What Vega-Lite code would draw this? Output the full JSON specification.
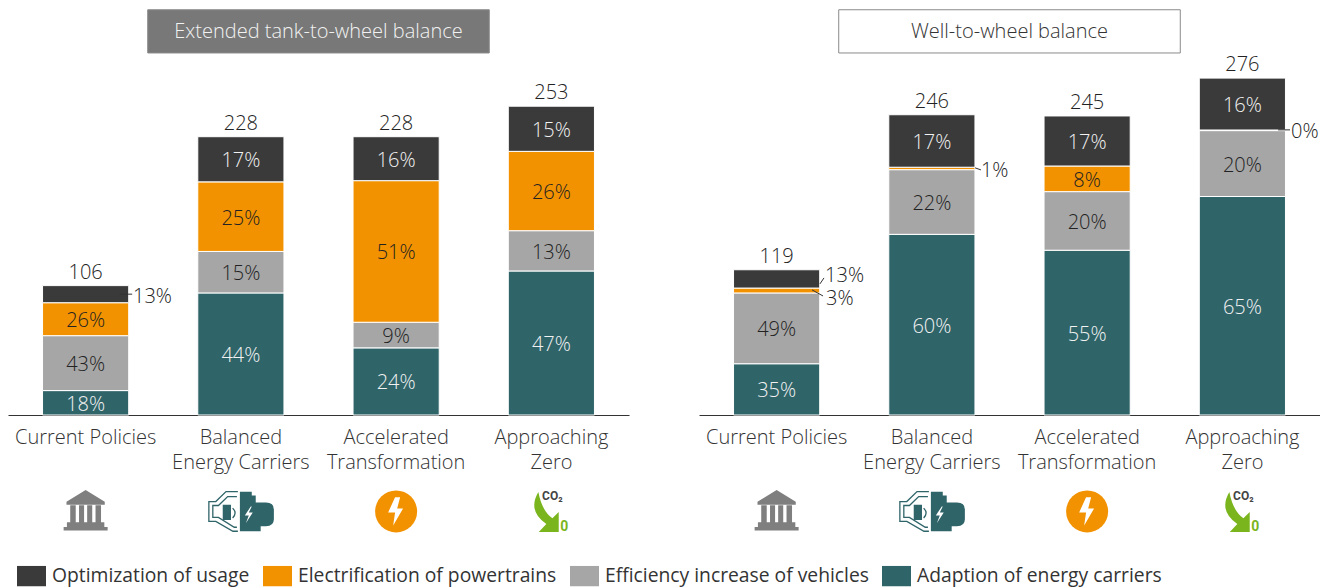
{
"$schema":"https://vega.github.io/schema/vega-lite/v6.json",
"padding":{"left":8,"top":0,"right":0,"bottom":0},
"background":"white",
"config":{"font":"Open Sans","view":{"stroke":null},"legend":{"orient":"none","legendX":9,"legendY":561.5,"direction":"horizontal","columns":4,"title":null,"symbolType":"M-1,-0.7H1V0.7H-1Z","symbolSize":841,"symbolStrokeWidth":0,"symbolOpacity":1,"labelFontSize":19.3,"labelColor":"#333","labelOffset":6,"columnPadding":13,"labelLimit":400,"padding":0}},
"data":{"values":[
{"kind":"header","panel":"Extended tank-to-wheel balance","x":0.9,"x2":3.1,"y":296.6,"y2":332,"cx":2,"cy":314},
{"kind":"header","panel":"Well-to-wheel balance","x":0.9,"x2":3.1,"y":296.6,"y2":332,"cx":2,"cy":314},
{"kind":"bar","panel":"Extended tank-to-wheel balance","scenario":"Current Policies","category":"Adaption of energy carriers","value":20,"pct":18},
{"kind":"bar","panel":"Extended tank-to-wheel balance","scenario":"Current Policies","category":"Efficiency increase of vehicles","value":45,"pct":43},
{"kind":"bar","panel":"Extended tank-to-wheel balance","scenario":"Current Policies","category":"Electrification of powertrains","value":27,"pct":26},
{"kind":"bar","panel":"Extended tank-to-wheel balance","scenario":"Current Policies","category":"Optimization of usage","value":14,"pct":13,"outside":true},
{"kind":"bar","panel":"Extended tank-to-wheel balance","scenario":"Balanced Energy Carriers","category":"Adaption of energy carriers","value":100,"pct":44},
{"kind":"bar","panel":"Extended tank-to-wheel balance","scenario":"Balanced Energy Carriers","category":"Efficiency increase of vehicles","value":34,"pct":15},
{"kind":"bar","panel":"Extended tank-to-wheel balance","scenario":"Balanced Energy Carriers","category":"Electrification of powertrains","value":57,"pct":25},
{"kind":"bar","panel":"Extended tank-to-wheel balance","scenario":"Balanced Energy Carriers","category":"Optimization of usage","value":37,"pct":17},
{"kind":"bar","panel":"Extended tank-to-wheel balance","scenario":"Accelerated Transformation","category":"Adaption of energy carriers","value":55,"pct":24},
{"kind":"bar","panel":"Extended tank-to-wheel balance","scenario":"Accelerated Transformation","category":"Efficiency increase of vehicles","value":21,"pct":9},
{"kind":"bar","panel":"Extended tank-to-wheel balance","scenario":"Accelerated Transformation","category":"Electrification of powertrains","value":116,"pct":51},
{"kind":"bar","panel":"Extended tank-to-wheel balance","scenario":"Accelerated Transformation","category":"Optimization of usage","value":36,"pct":16},
{"kind":"bar","panel":"Extended tank-to-wheel balance","scenario":"Approaching Zero","category":"Adaption of energy carriers","value":118,"pct":47},
{"kind":"bar","panel":"Extended tank-to-wheel balance","scenario":"Approaching Zero","category":"Efficiency increase of vehicles","value":33,"pct":13},
{"kind":"bar","panel":"Extended tank-to-wheel balance","scenario":"Approaching Zero","category":"Electrification of powertrains","value":65,"pct":26},
{"kind":"bar","panel":"Extended tank-to-wheel balance","scenario":"Approaching Zero","category":"Optimization of usage","value":37,"pct":15},
{"kind":"bar","panel":"Well-to-wheel balance","scenario":"Current Policies","category":"Adaption of energy carriers","value":42,"pct":35},
{"kind":"bar","panel":"Well-to-wheel balance","scenario":"Current Policies","category":"Efficiency increase of vehicles","value":58,"pct":49},
{"kind":"bar","panel":"Well-to-wheel balance","scenario":"Current Policies","category":"Electrification of powertrains","value":4,"pct":3,"outside":true},
{"kind":"bar","panel":"Well-to-wheel balance","scenario":"Current Policies","category":"Optimization of usage","value":15,"pct":13,"outside":true},
{"kind":"bar","panel":"Well-to-wheel balance","scenario":"Balanced Energy Carriers","category":"Adaption of energy carriers","value":148,"pct":60},
{"kind":"bar","panel":"Well-to-wheel balance","scenario":"Balanced Energy Carriers","category":"Efficiency increase of vehicles","value":53,"pct":22},
{"kind":"bar","panel":"Well-to-wheel balance","scenario":"Balanced Energy Carriers","category":"Electrification of powertrains","value":2,"pct":1,"outside":true},
{"kind":"bar","panel":"Well-to-wheel balance","scenario":"Balanced Energy Carriers","category":"Optimization of usage","value":43,"pct":17},
{"kind":"bar","panel":"Well-to-wheel balance","scenario":"Accelerated Transformation","category":"Adaption of energy carriers","value":135,"pct":55},
{"kind":"bar","panel":"Well-to-wheel balance","scenario":"Accelerated Transformation","category":"Efficiency increase of vehicles","value":48,"pct":20},
{"kind":"bar","panel":"Well-to-wheel balance","scenario":"Accelerated Transformation","category":"Electrification of powertrains","value":21,"pct":8},
{"kind":"bar","panel":"Well-to-wheel balance","scenario":"Accelerated Transformation","category":"Optimization of usage","value":41,"pct":17},
{"kind":"bar","panel":"Well-to-wheel balance","scenario":"Approaching Zero","category":"Adaption of energy carriers","value":179,"pct":65},
{"kind":"bar","panel":"Well-to-wheel balance","scenario":"Approaching Zero","category":"Efficiency increase of vehicles","value":54,"pct":20},
{"kind":"bar","panel":"Well-to-wheel balance","scenario":"Approaching Zero","category":"Electrification of powertrains","value":0.5,"pct":0,"outside":true},
{"kind":"bar","panel":"Well-to-wheel balance","scenario":"Approaching Zero","category":"Optimization of usage","value":42.5,"pct":16},
{"kind":"total","panel":"Extended tank-to-wheel balance","scenario":"Current Policies","value":106},
{"kind":"total","panel":"Extended tank-to-wheel balance","scenario":"Balanced Energy Carriers","value":228},
{"kind":"total","panel":"Extended tank-to-wheel balance","scenario":"Accelerated Transformation","value":228},
{"kind":"total","panel":"Extended tank-to-wheel balance","scenario":"Approaching Zero","value":253},
{"kind":"total","panel":"Well-to-wheel balance","scenario":"Current Policies","value":119},
{"kind":"total","panel":"Well-to-wheel balance","scenario":"Balanced Energy Carriers","value":246},
{"kind":"total","panel":"Well-to-wheel balance","scenario":"Accelerated Transformation","value":245},
{"kind":"total","panel":"Well-to-wheel balance","scenario":"Approaching Zero","value":276},
{"kind":"leader","panel":"Extended tank-to-wheel balance","x":0.72,"x2":0.8,"y":99,"y2":99},
{"kind":"leader","panel":"Well-to-wheel balance","x":0.779,"x2":0.805,"y":107.4,"y2":112.3},
{"kind":"leader","panel":"Well-to-wheel balance","x":0.728,"x2":0.799,"y":102.5,"y2":97.5},
{"kind":"leader","panel":"Well-to-wheel balance","x":1.778,"x2":1.816,"y":202.5,"y2":200.8},
{"kind":"leader","panel":"Well-to-wheel balance","x":3.73,"x2":3.807,"y":233.6,"y2":233.6},
{"kind":"note","panel":"Extended tank-to-wheel balance","x":0.805,"y":97.5,"text":"13%"},
{"kind":"note","panel":"Well-to-wheel balance","x":0.812,"y":114.8,"text":"13%"},
{"kind":"note","panel":"Well-to-wheel balance","x":0.818,"y":95.9,"text":"3%"},
{"kind":"note","panel":"Well-to-wheel balance","x":1.816,"y":200.8,"text":"1%"},
{"kind":"note","panel":"Well-to-wheel balance","x":3.813,"y":232.8,"text":"0%"},
{"kind":"icon","panel":"Extended tank-to-wheel balance","scenario":"Current Policies"},
{"kind":"icon","panel":"Extended tank-to-wheel balance","scenario":"Balanced Energy Carriers"},
{"kind":"icon","panel":"Extended tank-to-wheel balance","scenario":"Accelerated Transformation"},
{"kind":"icon","panel":"Extended tank-to-wheel balance","scenario":"Approaching Zero"},
{"kind":"icon","panel":"Well-to-wheel balance","scenario":"Current Policies"},
{"kind":"icon","panel":"Well-to-wheel balance","scenario":"Balanced Energy Carriers"},
{"kind":"icon","panel":"Well-to-wheel balance","scenario":"Accelerated Transformation"},
{"kind":"icon","panel":"Well-to-wheel balance","scenario":"Approaching Zero"}
]},
"spacing":70,
"hconcat":[
{
"transform":[{"filter":"datum.panel=='Extended tank-to-wheel balance'"}],
"width":621,"height":415,
"resolve":{"scale":{"x":"independent"},"axis":{"x":"independent"}},
"encoding":{"x":{"field":"scenario","type":"nominal","title":null,"axis":null,"scale":{"domain":["Current Policies","Balanced Energy Carriers","Accelerated Transformation","Approaching Zero"],"paddingInner":0.445,"paddingOuter":0.2225}}},
"layer":[
{"transform":[{"filter":"datum.kind=='header'"}],"mark":{"type":"rect","strokeWidth":1,"stroke":"#8a8a8a"},
"encoding":{"x":{"field":"x","type":"quantitative","scale":{"domain":[0,4]},"axis":null},"x2":{"field":"x2"},"y":{"field":"y","type":"quantitative","scale":{"domain":[0,340]},"axis":null},"y2":{"field":"y2"},
"fill":{"condition":{"test":"datum.panel=='Well-to-wheel balance'","value":"#ffffff"},"value":"#787878"}}},
{"transform":[{"filter":"datum.kind=='header'"}],"mark":{"type":"text","fontSize":20,"fontWeight":300},
"encoding":{"x":{"field":"cx","type":"quantitative","scale":{"domain":[0,4]},"axis":null},"y":{"field":"cy","type":"quantitative","scale":{"domain":[0,340]},"axis":null},"text":{"field":"panel"},
"color":{"condition":{"test":"datum.panel=='Well-to-wheel balance'","value":"#333333"},"value":"#f2f2f2"}}},
{"transform":[{"filter":"datum.kind=='bar'"},{"stack":"value","groupby":["scenario"],"as":["y0","y1"]}],"mark":{"type":"bar","stroke":"#ffffff","strokeWidth":1},
"encoding":{"x":{"field":"scenario","type":"nominal","title":null,"scale":{"domain":["Current Policies","Balanced Energy Carriers","Accelerated Transformation","Approaching Zero"],"paddingInner":0.445,"paddingOuter":0.2225},
"axis":{"title":null,"labelAngle":0,"ticks":false,"labelFontSize":20,"labelFontWeight":300,"labelColor":"#333","labelPadding":12,"labelLimit":300,"labelLineHeight":25,"domainColor":"#333","domainWidth":1,"labelBaseline":"top","labelExpr":"datum.label=='Balanced Energy Carriers'?['Balanced','Energy Carriers']:datum.label=='Accelerated Transformation'?['Accelerated','Transformation']:datum.label=='Approaching Zero'?['Approaching','Zero']:datum.label"}},
"y":{"field":"y0","type":"quantitative","scale":{"domain":[0,340]},"axis":null},"y2":{"field":"y1"},
"color":{"field":"category","type":"nominal","scale":{"domain":["Optimization of usage","Electrification of powertrains","Efficiency increase of vehicles","Adaption of energy carriers"],"range":["#3a3a3a","#f39200","#a6a6a6","#2f6469"]},"legend":{}}}},
{"transform":[{"filter":"datum.kind=='bar'"},{"stack":"value","groupby":["scenario"],"as":["y0","y1"]},{"filter":"!datum.outside"},{"calculate":"(datum.y0+datum.y1)/2","as":"mid"},{"calculate":"datum.pct+'%'","as":"pctText"}],"mark":{"type":"text","fontSize":20,"fontWeight":300,"dy":2},
"encoding":{"y":{"field":"mid","type":"quantitative","scale":{"domain":[0,340]},"axis":null},"text":{"field":"pctText"},
"color":{"condition":{"test":"datum.category=='Optimization of usage'||datum.category=='Adaption of energy carriers'","value":"#f2f2f2"},"value":"#222222"}}},
{"transform":[{"filter":"datum.kind=='total'"}],"mark":{"type":"text","fontSize":20,"fontWeight":300,"baseline":"bottom","dy":-3,"color":"#222"},
"encoding":{"y":{"field":"value","type":"quantitative","scale":{"domain":[0,340]},"axis":null},"text":{"field":"value"}}},
{"transform":[{"filter":"datum.kind=='leader'"}],"mark":{"type":"rule","color":"#333","strokeWidth":1},
"encoding":{"x":{"field":"x","type":"quantitative","scale":{"domain":[0,4]},"axis":null},"x2":{"field":"x2"},"y":{"field":"y","type":"quantitative","scale":{"domain":[0,340]},"axis":null},"y2":{"field":"y2"}}},
{"transform":[{"filter":"datum.kind=='note'"}],"mark":{"type":"text","fontSize":20,"fontWeight":300,"align":"left","dy":1,"color":"#222"},
"encoding":{"x":{"field":"x","type":"quantitative","scale":{"domain":[0,4]},"axis":null},"y":{"field":"y","type":"quantitative","scale":{"domain":[0,340]},"axis":null},"text":{"field":"text"}}},
{"transform":[{"filter":"datum.kind=='icon'&&datum.scenario=='Current Policies'"}],"mark":{"type":"point","filled":true,"opacity":1,"size":1936,"color":"#7f7f7f","shape":"M0,-.92L.87,-.38V-.25H-.87V-.38Z M-.7,-.22H-.45V.58H-.7Z M-.3,-.22H-.07V.58H-.3Z M.07,-.22H.3V.58H.07Z M.45,-.22H.7V.58H.45Z M-.85,.55H.85V.76H1V.92H-1V.76H-.85Z"},
"encoding":{"y":{"datum":-78,"type":"quantitative","scale":{"domain":[0,340]},"axis":null}}},
{"transform":[{"filter":"datum.kind=='icon'&&datum.scenario=='Balanced Energy Carriers'"}],"mark":{"type":"point","filled":true,"opacity":1,"size":4356,"color":"#2f6469","shape":"M-.03,-.6H.33V-.48H.45V-.27H.76Q1,-.27 1,-.06V.24Q1,.45 .76,.45H.6V.6H-.03Z M-.55,-.2H-.3V.26H-.55Z"},
"encoding":{"y":{"datum":-79,"type":"quantitative","scale":{"domain":[0,340]},"axis":null}}},
{"transform":[{"filter":"datum.kind=='icon'&&datum.scenario=='Balanced Energy Carriers'"}],"mark":{"type":"point","filled":false,"opacity":1,"strokeWidth":1.3,"size":4356,"color":"#2f6469","shape":"M-.09,-.6H-.45L-.76,-.3H-.97V.3H-.76L-.24,.6H-.09M-.12,-.45H-.4L-.68,-.18H-.85V.18H-.68L-.2,.48H-.12M-.25,-.1Q-.1,.05 -.25,.2"},
"encoding":{"y":{"datum":-79,"type":"quantitative","scale":{"domain":[0,340]},"axis":null}}},
{"transform":[{"filter":"datum.kind=='icon'&&datum.scenario=='Balanced Energy Carriers'"}],"mark":{"type":"point","filled":true,"opacity":1,"size":4356,"color":"#ffffff","shape":"M.3,-.15L.12,.12H.24L.15,.36L.36,.03H.24L.33,-.15Z"},
"encoding":{"y":{"datum":-79,"type":"quantitative","scale":{"domain":[0,340]},"axis":null}}},
{"transform":[{"filter":"datum.kind=='icon'&&datum.scenario=='Accelerated Transformation'"}],"mark":{"type":"point","shape":"circle","filled":true,"opacity":1,"size":1764,"color":"#f39200"},
"encoding":{"y":{"datum":-79,"type":"quantitative","scale":{"domain":[0,340]},"axis":null}}},
{"transform":[{"filter":"datum.kind=='icon'&&datum.scenario=='Accelerated Transformation'"}],"mark":{"type":"point","filled":true,"opacity":1,"size":1764,"color":"#ffffff","shape":"M-.05,-.67L-.38,.05H-.05L-.14,.67L.33,-.14H.05L.19,-.67Z"},
"encoding":{"y":{"datum":-79,"type":"quantitative","scale":{"domain":[0,340]},"axis":null}}},
{"transform":[{"filter":"datum.kind=='icon'&&datum.scenario=='Approaching Zero'"}],"mark":{"type":"point","filled":true,"opacity":1,"size":1764,"color":"#7ab51d","shape":"M-.62,-.95Q-1.15,-.05 -.24,.57L-.6,.95H.35V0L.05,.3Q-.45,-.05 -.62,-.95Z"},
"encoding":{"y":{"datum":-79.5,"type":"quantitative","scale":{"domain":[0,340]},"axis":null}}},
{"transform":[{"filter":"datum.kind=='icon'&&datum.scenario=='Approaching Zero'"}],"mark":{"type":"text","fontSize":12,"fontWeight":"bold","font":"Roboto","color":"#444","text":"CO₂","dx":1},
"encoding":{"y":{"datum":-66,"type":"quantitative","scale":{"domain":[0,340]},"axis":null}}},
{"transform":[{"filter":"datum.kind=='icon'&&datum.scenario=='Approaching Zero'"}],"mark":{"type":"text","fontSize":14,"fontWeight":"bold","font":"Roboto","color":"#7ab51d","text":"0","dx":13},
"encoding":{"y":{"datum":-91.5,"type":"quantitative","scale":{"domain":[0,340]},"axis":null}}}
]},
{
"transform":[{"filter":"datum.panel=='Well-to-wheel balance'"}],
"width":621,"height":415,
"resolve":{"scale":{"x":"independent"},"axis":{"x":"independent"}},
"encoding":{"x":{"field":"scenario","type":"nominal","title":null,"axis":null,"scale":{"domain":["Current Policies","Balanced Energy Carriers","Accelerated Transformation","Approaching Zero"],"paddingInner":0.445,"paddingOuter":0.2225}}},
"layer":[
{"transform":[{"filter":"datum.kind=='header'"}],"mark":{"type":"rect","strokeWidth":1,"stroke":"#8a8a8a"},
"encoding":{"x":{"field":"x","type":"quantitative","scale":{"domain":[0,4]},"axis":null},"x2":{"field":"x2"},"y":{"field":"y","type":"quantitative","scale":{"domain":[0,340]},"axis":null},"y2":{"field":"y2"},
"fill":{"condition":{"test":"datum.panel=='Well-to-wheel balance'","value":"#ffffff"},"value":"#787878"}}},
{"transform":[{"filter":"datum.kind=='header'"}],"mark":{"type":"text","fontSize":20,"fontWeight":300},
"encoding":{"x":{"field":"cx","type":"quantitative","scale":{"domain":[0,4]},"axis":null},"y":{"field":"cy","type":"quantitative","scale":{"domain":[0,340]},"axis":null},"text":{"field":"panel"},
"color":{"condition":{"test":"datum.panel=='Well-to-wheel balance'","value":"#333333"},"value":"#f2f2f2"}}},
{"transform":[{"filter":"datum.kind=='bar'"},{"stack":"value","groupby":["scenario"],"as":["y0","y1"]}],"mark":{"type":"bar","stroke":"#ffffff","strokeWidth":1},
"encoding":{"x":{"field":"scenario","type":"nominal","title":null,"scale":{"domain":["Current Policies","Balanced Energy Carriers","Accelerated Transformation","Approaching Zero"],"paddingInner":0.445,"paddingOuter":0.2225},
"axis":{"title":null,"labelAngle":0,"ticks":false,"labelFontSize":20,"labelFontWeight":300,"labelColor":"#333","labelPadding":12,"labelLimit":300,"labelLineHeight":25,"domainColor":"#333","domainWidth":1,"labelBaseline":"top","labelExpr":"datum.label=='Balanced Energy Carriers'?['Balanced','Energy Carriers']:datum.label=='Accelerated Transformation'?['Accelerated','Transformation']:datum.label=='Approaching Zero'?['Approaching','Zero']:datum.label"}},
"y":{"field":"y0","type":"quantitative","scale":{"domain":[0,340]},"axis":null},"y2":{"field":"y1"},
"color":{"field":"category","type":"nominal","scale":{"domain":["Optimization of usage","Electrification of powertrains","Efficiency increase of vehicles","Adaption of energy carriers"],"range":["#3a3a3a","#f39200","#a6a6a6","#2f6469"]},"legend":{}}}},
{"transform":[{"filter":"datum.kind=='bar'"},{"stack":"value","groupby":["scenario"],"as":["y0","y1"]},{"filter":"!datum.outside"},{"calculate":"(datum.y0+datum.y1)/2","as":"mid"},{"calculate":"datum.pct+'%'","as":"pctText"}],"mark":{"type":"text","fontSize":20,"fontWeight":300,"dy":2},
"encoding":{"y":{"field":"mid","type":"quantitative","scale":{"domain":[0,340]},"axis":null},"text":{"field":"pctText"},
"color":{"condition":{"test":"datum.category=='Optimization of usage'||datum.category=='Adaption of energy carriers'","value":"#f2f2f2"},"value":"#222222"}}},
{"transform":[{"filter":"datum.kind=='total'"}],"mark":{"type":"text","fontSize":20,"fontWeight":300,"baseline":"bottom","dy":-3,"color":"#222"},
"encoding":{"y":{"field":"value","type":"quantitative","scale":{"domain":[0,340]},"axis":null},"text":{"field":"value"}}},
{"transform":[{"filter":"datum.kind=='leader'"}],"mark":{"type":"rule","color":"#333","strokeWidth":1},
"encoding":{"x":{"field":"x","type":"quantitative","scale":{"domain":[0,4]},"axis":null},"x2":{"field":"x2"},"y":{"field":"y","type":"quantitative","scale":{"domain":[0,340]},"axis":null},"y2":{"field":"y2"}}},
{"transform":[{"filter":"datum.kind=='note'"}],"mark":{"type":"text","fontSize":20,"fontWeight":300,"align":"left","dy":1,"color":"#222"},
"encoding":{"x":{"field":"x","type":"quantitative","scale":{"domain":[0,4]},"axis":null},"y":{"field":"y","type":"quantitative","scale":{"domain":[0,340]},"axis":null},"text":{"field":"text"}}},
{"transform":[{"filter":"datum.kind=='icon'&&datum.scenario=='Current Policies'"}],"mark":{"type":"point","filled":true,"opacity":1,"size":1936,"color":"#7f7f7f","shape":"M0,-.92L.87,-.38V-.25H-.87V-.38Z M-.7,-.22H-.45V.58H-.7Z M-.3,-.22H-.07V.58H-.3Z M.07,-.22H.3V.58H.07Z M.45,-.22H.7V.58H.45Z M-.85,.55H.85V.76H1V.92H-1V.76H-.85Z"},
"encoding":{"y":{"datum":-78,"type":"quantitative","scale":{"domain":[0,340]},"axis":null}}},
{"transform":[{"filter":"datum.kind=='icon'&&datum.scenario=='Balanced Energy Carriers'"}],"mark":{"type":"point","filled":true,"opacity":1,"size":4356,"color":"#2f6469","shape":"M-.03,-.6H.33V-.48H.45V-.27H.76Q1,-.27 1,-.06V.24Q1,.45 .76,.45H.6V.6H-.03Z M-.55,-.2H-.3V.26H-.55Z"},
"encoding":{"y":{"datum":-79,"type":"quantitative","scale":{"domain":[0,340]},"axis":null}}},
{"transform":[{"filter":"datum.kind=='icon'&&datum.scenario=='Balanced Energy Carriers'"}],"mark":{"type":"point","filled":false,"opacity":1,"strokeWidth":1.3,"size":4356,"color":"#2f6469","shape":"M-.09,-.6H-.45L-.76,-.3H-.97V.3H-.76L-.24,.6H-.09M-.12,-.45H-.4L-.68,-.18H-.85V.18H-.68L-.2,.48H-.12M-.25,-.1Q-.1,.05 -.25,.2"},
"encoding":{"y":{"datum":-79,"type":"quantitative","scale":{"domain":[0,340]},"axis":null}}},
{"transform":[{"filter":"datum.kind=='icon'&&datum.scenario=='Balanced Energy Carriers'"}],"mark":{"type":"point","filled":true,"opacity":1,"size":4356,"color":"#ffffff","shape":"M.3,-.15L.12,.12H.24L.15,.36L.36,.03H.24L.33,-.15Z"},
"encoding":{"y":{"datum":-79,"type":"quantitative","scale":{"domain":[0,340]},"axis":null}}},
{"transform":[{"filter":"datum.kind=='icon'&&datum.scenario=='Accelerated Transformation'"}],"mark":{"type":"point","shape":"circle","filled":true,"opacity":1,"size":1764,"color":"#f39200"},
"encoding":{"y":{"datum":-79,"type":"quantitative","scale":{"domain":[0,340]},"axis":null}}},
{"transform":[{"filter":"datum.kind=='icon'&&datum.scenario=='Accelerated Transformation'"}],"mark":{"type":"point","filled":true,"opacity":1,"size":1764,"color":"#ffffff","shape":"M-.05,-.67L-.38,.05H-.05L-.14,.67L.33,-.14H.05L.19,-.67Z"},
"encoding":{"y":{"datum":-79,"type":"quantitative","scale":{"domain":[0,340]},"axis":null}}},
{"transform":[{"filter":"datum.kind=='icon'&&datum.scenario=='Approaching Zero'"}],"mark":{"type":"point","filled":true,"opacity":1,"size":1764,"color":"#7ab51d","shape":"M-.62,-.95Q-1.15,-.05 -.24,.57L-.6,.95H.35V0L.05,.3Q-.45,-.05 -.62,-.95Z"},
"encoding":{"y":{"datum":-79.5,"type":"quantitative","scale":{"domain":[0,340]},"axis":null}}},
{"transform":[{"filter":"datum.kind=='icon'&&datum.scenario=='Approaching Zero'"}],"mark":{"type":"text","fontSize":12,"fontWeight":"bold","font":"Roboto","color":"#444","text":"CO₂","dx":1},
"encoding":{"y":{"datum":-66,"type":"quantitative","scale":{"domain":[0,340]},"axis":null}}},
{"transform":[{"filter":"datum.kind=='icon'&&datum.scenario=='Approaching Zero'"}],"mark":{"type":"text","fontSize":14,"fontWeight":"bold","font":"Roboto","color":"#7ab51d","text":"0","dx":13},
"encoding":{"y":{"datum":-91.5,"type":"quantitative","scale":{"domain":[0,340]},"axis":null}}}
]}
]
}
